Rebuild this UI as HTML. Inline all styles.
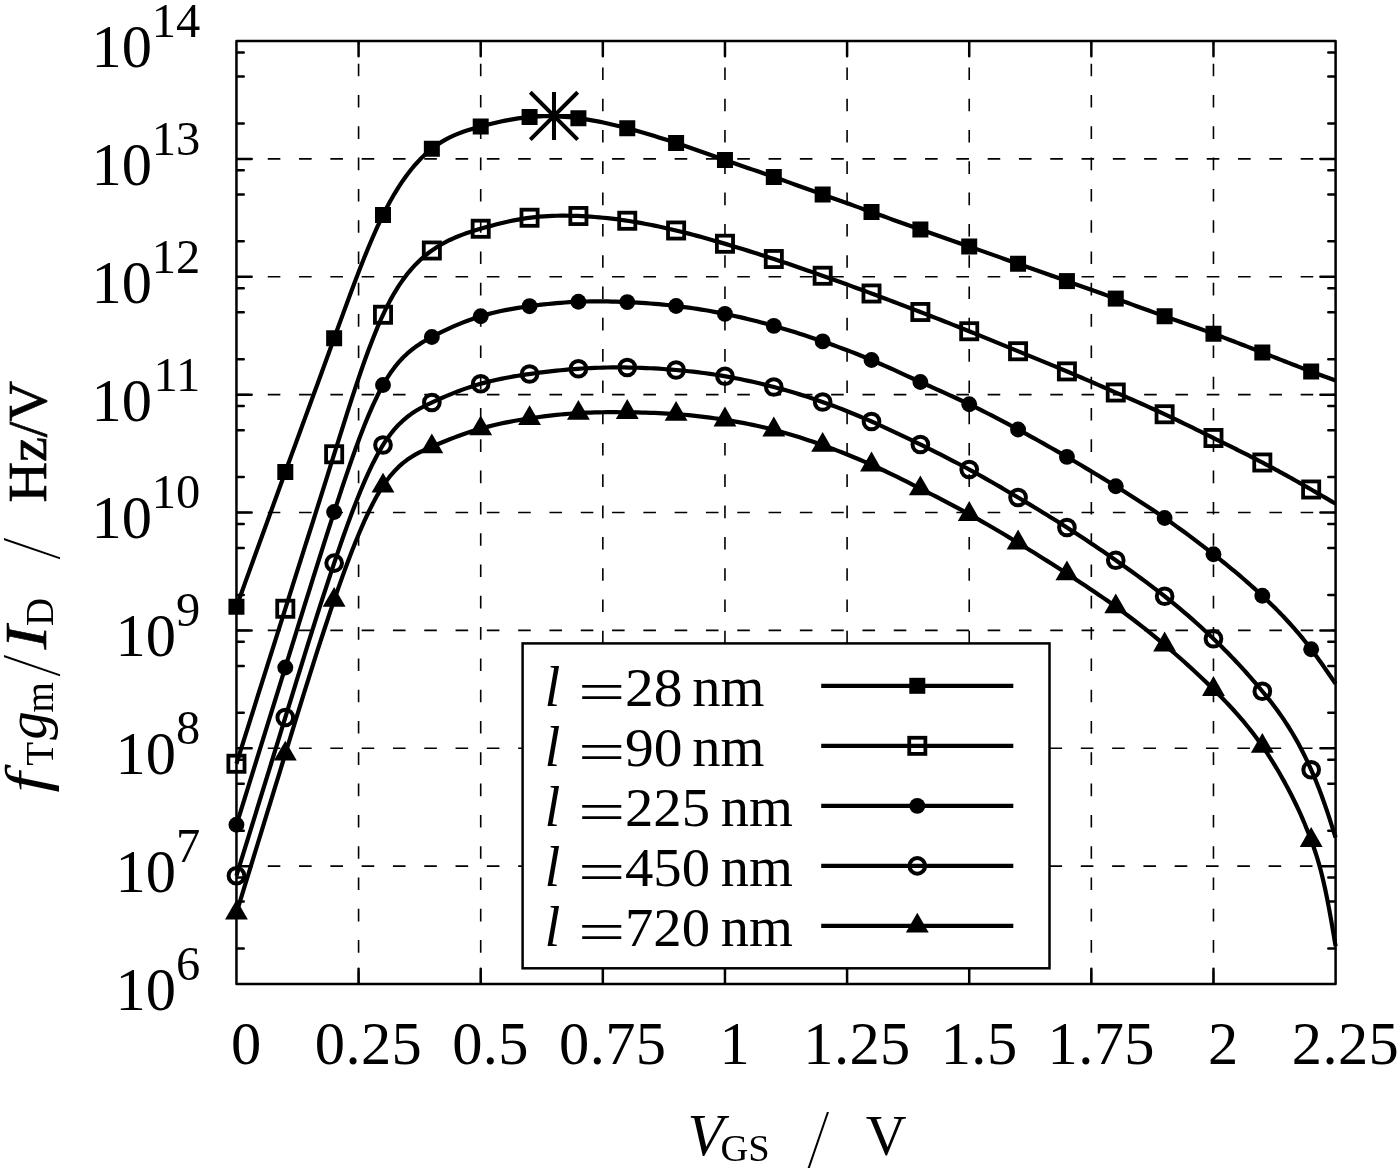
<!DOCTYPE html>
<html lang="en"><head><meta charset="utf-8"><title>fT gm/ID vs VGS</title>
<style>html,body{margin:0;padding:0;background:#fff}svg{display:block}text{font-family:"Liberation Serif","DejaVu Serif",serif;fill:#000}</style></head><body>
<svg width="1400" height="1173" viewBox="0 0 1400 1173">
<rect x="0" y="0" width="1400" height="1173" fill="#fff"/>
<g stroke="#000" stroke-width="1.6" fill="none" stroke-dasharray="12.6 18.7">
<path d="M236.45 866.13H522.6"/><path d="M1049.5 866.13H1335.6"/>
<path d="M236.45 748.26H522.6"/><path d="M1049.5 748.26H1335.6"/>
<path d="M236.45 630.39H1335.6"/>
<path d="M236.45 512.52H1335.6"/>
<path d="M236.45 394.66H1335.6"/>
<path d="M236.45 276.79H1335.6"/>
<path d="M236.45 158.92H1335.6"/>
<path d="M358.58 984V41.05"/>
<path d="M480.71 984V41.05"/>
<path d="M602.83 984V968.3"/><path d="M602.83 643.4V41.05"/>
<path d="M724.96 984V968.3"/><path d="M724.96 643.4V41.05"/>
<path d="M847.09 984V968.3"/><path d="M847.09 643.4V41.05"/>
<path d="M969.22 984V968.3"/><path d="M969.22 643.4V41.05"/>
<path d="M1091.34 984V41.05"/>
<path d="M1213.47 984V41.05"/>
</g>
<g stroke="#000" stroke-width="2.5" fill="none" stroke-linecap="round">
<path d="M237.45 866.13h14.2 M1334.6 866.13h-14.2"/>
<path d="M237.45 748.26h14.2 M1334.6 748.26h-14.2"/>
<path d="M237.45 630.39h14.2 M1334.6 630.39h-14.2"/>
<path d="M237.45 512.52h14.2 M1334.6 512.52h-14.2"/>
<path d="M237.45 394.66h14.2 M1334.6 394.66h-14.2"/>
<path d="M237.45 276.79h14.2 M1334.6 276.79h-14.2"/>
<path d="M237.45 158.92h14.2 M1334.6 158.92h-14.2"/>
<path d="M237.45 948.52h6.3 M1334.6 948.52h-6.3"/>
<path d="M237.45 901.61h6.3 M1334.6 901.61h-6.3"/>
<path d="M237.45 877.55h6.3 M1334.6 877.55h-6.3"/>
<path d="M237.45 830.65h6.3 M1334.6 830.65h-6.3"/>
<path d="M237.45 783.74h6.3 M1334.6 783.74h-6.3"/>
<path d="M237.45 759.69h6.3 M1334.6 759.69h-6.3"/>
<path d="M237.45 712.78h6.3 M1334.6 712.78h-6.3"/>
<path d="M237.45 665.88h6.3 M1334.6 665.88h-6.3"/>
<path d="M237.45 641.82h6.3 M1334.6 641.82h-6.3"/>
<path d="M237.45 594.91h6.3 M1334.6 594.91h-6.3"/>
<path d="M237.45 548.01h6.3 M1334.6 548.01h-6.3"/>
<path d="M237.45 523.95h6.3 M1334.6 523.95h-6.3"/>
<path d="M237.45 477.04h6.3 M1334.6 477.04h-6.3"/>
<path d="M237.45 430.14h6.3 M1334.6 430.14h-6.3"/>
<path d="M237.45 406.08h6.3 M1334.6 406.08h-6.3"/>
<path d="M237.45 359.17h6.3 M1334.6 359.17h-6.3"/>
<path d="M237.45 312.27h6.3 M1334.6 312.27h-6.3"/>
<path d="M237.45 288.21h6.3 M1334.6 288.21h-6.3"/>
<path d="M237.45 241.31h6.3 M1334.6 241.31h-6.3"/>
<path d="M237.45 194.4h6.3 M1334.6 194.4h-6.3"/>
<path d="M237.45 170.34h6.3 M1334.6 170.34h-6.3"/>
<path d="M237.45 123.44h6.3 M1334.6 123.44h-6.3"/>
<path d="M237.45 76.53h6.3 M1334.6 76.53h-6.3"/>
<path d="M237.45 52.47h6.3 M1334.6 52.47h-6.3"/>
<path d="M358.58 983v-14.2 M358.58 42.05v14.2"/>
<path d="M480.71 983v-14.2 M480.71 42.05v14.2"/>
<path d="M602.83 983v-14.2 M602.83 42.05v14.2"/>
<path d="M724.96 983v-14.2 M724.96 42.05v14.2"/>
<path d="M847.09 983v-14.2 M847.09 42.05v14.2"/>
<path d="M969.22 983v-14.2 M969.22 42.05v14.2"/>
<path d="M1091.34 983v-14.2 M1091.34 42.05v14.2"/>
<path d="M1213.47 983v-14.2 M1213.47 42.05v14.2"/>
</g>
<g stroke="#000" stroke-width="4.2" fill="none" stroke-linejoin="round">
<path d="M236.45 606.75 240.72 594.95 244.98 583.15 249.25 571.35 253.52 559.55 257.78 547.77 262.05 535.99 266.32 524.22 270.58 512.46 274.85 500.71 279.11 488.98 283.38 477.27 287.65 465.57 291.91 453.89 296.18 442.22 300.45 430.55 304.71 418.9 308.98 407.24 313.25 395.58 317.51 383.91 321.78 372.23 326.05 360.53 330.31 348.81 334.58 337.07 338.85 325.32 343.11 313.6 347.38 301.95 351.64 290.45 355.91 279.13 360.18 268.05 364.44 257.26 368.71 246.81 372.98 236.76 377.24 227.16 381.51 218.06 385.78 209.51 390.04 201.51 394.31 194.06 398.58 187.12 402.84 180.69 407.11 174.74 411.38 169.25 415.64 164.21 419.91 159.59 424.17 155.37 428.44 151.55 432.71 148.09 436.97 144.97 441.24 142.18 445.51 139.68 449.77 137.44 454.04 135.43 458.31 133.64 462.57 132.02 466.84 130.55 471.11 129.21 475.37 127.96 479.64 126.79 483.91 125.65 488.17 124.55 492.44 123.5 496.7 122.5 500.97 121.54 505.24 120.65 509.5 119.83 513.77 119.08 518.04 118.4 522.3 117.8 526.57 117.3 530.84 116.89 535.1 116.57 539.37 116.35 543.64 116.22 547.9 116.18 552.17 116.23 556.44 116.36 560.7 116.57 564.97 116.86 569.23 117.22 573.5 117.66 577.77 118.17 582.03 118.74 586.3 119.39 590.57 120.09 594.83 120.85 599.1 121.67 603.37 122.54 607.63 123.46 611.9 124.43 616.17 125.44 620.43 126.49 624.7 127.58 628.97 128.7 633.23 129.86 637.5 131.05 641.76 132.26 646.03 133.51 650.3 134.78 654.56 136.08 658.83 137.4 663.1 138.75 667.36 140.12 671.63 141.52 675.9 142.93 680.16 144.36 684.43 145.81 688.7 147.28 692.96 148.75 697.23 150.24 701.5 151.74 705.76 153.24 710.03 154.74 714.29 156.25 718.56 157.75 722.83 159.25 727.09 160.75 731.36 162.24 735.63 163.72 739.89 165.2 744.16 166.68 748.43 168.16 752.69 169.64 756.96 171.11 761.23 172.6 765.49 174.08 769.76 175.58 774.03 177.08 778.29 178.58 782.56 180.1 786.82 181.62 791.09 183.14 795.36 184.67 799.62 186.2 803.89 187.74 808.16 189.28 812.42 190.81 816.69 192.35 820.96 193.89 825.22 195.42 829.49 196.95 833.76 198.48 838.02 200.01 842.29 201.53 846.56 203.06 850.82 204.59 855.09 206.11 859.35 207.64 863.62 209.17 867.89 210.7 872.15 212.23 876.42 213.76 880.69 215.3 884.95 216.84 889.22 218.37 893.49 219.91 897.75 221.44 902.02 222.97 906.29 224.5 910.55 226.02 914.82 227.54 919.09 229.05 923.35 230.55 927.62 232.05 931.89 233.54 936.15 235.02 940.42 236.51 944.68 237.99 948.95 239.46 953.22 240.94 957.48 242.42 961.75 243.9 966.02 245.38 970.28 246.87 974.55 248.36 978.82 249.86 983.08 251.36 987.35 252.86 991.62 254.37 995.88 255.88 1000.15 257.39 1004.42 258.9 1008.68 260.42 1012.95 261.93 1017.21 263.45 1021.48 264.96 1025.75 266.48 1030.01 267.99 1034.28 269.5 1038.55 271.02 1042.81 272.53 1047.08 274.05 1051.35 275.56 1055.61 277.08 1059.88 278.6 1064.15 280.11 1068.41 281.63 1072.68 283.15 1076.95 284.67 1081.21 286.19 1085.48 287.72 1089.74 289.24 1094.01 290.77 1098.28 292.3 1102.54 293.83 1106.81 295.37 1111.08 296.91 1115.34 298.45 1119.61 299.99 1123.88 301.53 1128.14 303.08 1132.41 304.63 1136.68 306.18 1140.94 307.72 1145.21 309.27 1149.48 310.81 1153.74 312.35 1158.01 313.88 1162.27 315.41 1166.54 316.93 1170.81 318.45 1175.07 319.97 1179.34 321.48 1183.61 322.99 1187.87 324.51 1192.14 326.03 1196.41 327.55 1200.67 329.09 1204.94 330.63 1209.21 332.18 1213.47 333.75 1215.54 334.52 1217.61 335.28 1219.68 336.06 1221.75 336.83 1223.82 337.61 1225.89 338.39 1227.96 339.18 1230.03 339.96 1232.1 340.75 1234.17 341.54 1236.24 342.34 1238.31 343.14 1240.38 343.93 1242.45 344.73 1244.52 345.54 1246.59 346.34 1248.66 347.15 1250.73 347.96 1252.8 348.76 1254.87 349.57 1256.94 350.39 1259.01 351.2 1261.08 352.01 1263.15 352.83 1265.22 353.64 1267.29 354.46 1269.36 355.27 1271.43 356.09 1273.5 356.9 1275.57 357.72 1277.64 358.53 1279.71 359.35 1281.78 360.16 1283.85 360.97 1285.92 361.78 1287.99 362.59 1290.06 363.4 1292.13 364.21 1294.2 365.01 1296.27 365.81 1298.34 366.61 1300.41 367.41 1302.48 368.2 1304.55 368.99 1306.62 369.78 1308.69 370.56 1310.76 371.34 1312.83 372.12 1314.9 372.89 1316.97 373.66 1319.04 374.43 1321.11 375.2 1323.18 375.96 1325.25 376.72 1327.32 377.48 1329.39 378.23 1331.46 378.99 1333.53 379.74 1335.6 380.5"/>
<path d="M236.45 763.75 240.72 750.19 244.98 736.63 249.25 723.07 253.52 709.51 257.78 695.96 262.05 682.41 266.32 668.88 270.58 655.35 274.85 641.83 279.11 628.32 283.38 614.82 287.65 601.34 291.91 587.86 296.18 574.4 300.45 560.93 304.71 547.47 308.98 534 313.25 520.53 317.51 507.04 321.78 493.54 326.05 480.01 330.31 466.47 334.58 452.89 338.85 439.3 343.11 425.76 347.38 412.34 351.64 399.11 355.91 386.14 360.18 373.52 364.44 361.31 368.71 349.58 372.98 338.4 377.24 327.86 381.51 318.02 385.78 308.94 390.04 300.63 394.31 293.05 398.58 286.15 402.84 279.88 407.11 274.2 411.38 269.06 415.64 264.41 419.91 260.22 424.17 256.44 428.44 253.01 432.71 249.9 436.97 247.07 441.24 244.49 445.51 242.14 449.77 239.99 454.04 238.04 458.31 236.25 462.57 234.61 466.84 233.09 471.11 231.68 475.37 230.34 479.64 229.06 483.91 227.82 488.17 226.62 492.44 225.46 496.7 224.34 500.97 223.27 505.24 222.25 509.5 221.3 513.77 220.41 518.04 219.58 522.3 218.84 526.57 218.17 530.84 217.58 535.1 217.08 539.37 216.67 543.64 216.33 547.9 216.07 552.17 215.87 556.44 215.75 560.7 215.68 564.97 215.68 569.23 215.73 573.5 215.83 577.77 215.97 582.03 216.17 586.3 216.4 590.57 216.67 594.83 216.99 599.1 217.35 603.37 217.75 607.63 218.19 611.9 218.68 616.17 219.2 620.43 219.76 624.7 220.37 628.97 221.01 633.23 221.7 637.5 222.42 641.76 223.18 646.03 223.97 650.3 224.8 654.56 225.67 658.83 226.56 663.1 227.49 667.36 228.45 671.63 229.43 675.9 230.45 680.16 231.49 684.43 232.56 688.7 233.65 692.96 234.76 697.23 235.9 701.5 237.06 705.76 238.24 710.03 239.43 714.29 240.65 718.56 241.88 722.83 243.12 727.09 244.38 731.36 245.65 735.63 246.94 739.89 248.23 744.16 249.55 748.43 250.87 752.69 252.2 756.96 253.55 761.23 254.91 765.49 256.29 769.76 257.67 774.03 259.07 778.29 260.48 782.56 261.9 786.82 263.33 791.09 264.78 795.36 266.23 799.62 267.69 803.89 269.17 808.16 270.65 812.42 272.14 816.69 273.64 820.96 275.15 825.22 276.66 829.49 278.18 833.76 279.71 838.02 281.24 842.29 282.78 846.56 284.33 850.82 285.88 855.09 287.44 859.35 289.01 863.62 290.58 867.89 292.15 872.15 293.74 876.42 295.33 880.69 296.92 884.95 298.52 889.22 300.12 893.49 301.73 897.75 303.35 902.02 304.97 906.29 306.6 910.55 308.23 914.82 309.86 919.09 311.51 923.35 313.15 927.62 314.81 931.89 316.46 936.15 318.13 940.42 319.8 944.68 321.47 948.95 323.16 953.22 324.85 957.48 326.54 961.75 328.25 966.02 329.96 970.28 331.68 974.55 333.41 978.82 335.14 983.08 336.88 987.35 338.63 991.62 340.38 995.88 342.13 1000.15 343.89 1004.42 345.64 1008.68 347.39 1012.95 349.15 1017.21 350.9 1021.48 352.65 1025.75 354.39 1030.01 356.14 1034.28 357.89 1038.55 359.63 1042.81 361.38 1047.08 363.14 1051.35 364.9 1055.61 366.67 1059.88 368.45 1064.15 370.23 1068.41 372.03 1072.68 373.84 1076.95 375.66 1081.21 377.49 1085.48 379.33 1089.74 381.17 1094.01 383.02 1098.28 384.88 1102.54 386.73 1106.81 388.59 1111.08 390.45 1115.34 392.31 1119.61 394.17 1123.88 396.03 1128.14 397.89 1132.41 399.76 1136.68 401.64 1140.94 403.52 1145.21 405.42 1149.48 407.32 1153.74 409.25 1158.01 411.19 1162.27 413.16 1166.54 415.15 1170.81 417.16 1175.07 419.19 1179.34 421.24 1183.61 423.31 1187.87 425.38 1192.14 427.47 1196.41 429.57 1200.67 431.68 1204.94 433.78 1209.21 435.89 1213.47 438 1215.54 439.02 1217.61 440.04 1219.68 441.06 1221.75 442.08 1223.82 443.1 1225.89 444.12 1227.96 445.14 1230.03 446.17 1232.1 447.19 1234.17 448.22 1236.24 449.25 1238.31 450.28 1240.38 451.31 1242.45 452.34 1244.52 453.38 1246.59 454.43 1248.66 455.47 1250.73 456.52 1252.8 457.58 1254.87 458.64 1256.94 459.7 1259.01 460.78 1261.08 461.85 1263.15 462.93 1265.22 464.02 1267.29 465.12 1269.36 466.22 1271.43 467.32 1273.5 468.43 1275.57 469.55 1277.64 470.67 1279.71 471.8 1281.78 472.93 1283.85 474.07 1285.92 475.21 1287.99 476.36 1290.06 477.51 1292.13 478.67 1294.2 479.83 1296.27 480.99 1298.34 482.16 1300.41 483.34 1302.48 484.51 1304.55 485.7 1306.62 486.88 1308.69 488.07 1310.76 489.26 1312.83 490.46 1314.9 491.66 1316.97 492.86 1319.04 494.06 1321.11 495.27 1323.18 496.47 1325.25 497.68 1327.32 498.9 1329.39 500.11 1331.46 501.32 1333.53 502.54 1335.6 503.75"/>
<path d="M236.45 824.75 240.72 811.03 244.98 797.31 249.25 783.59 253.52 769.87 257.78 756.15 262.05 742.42 266.32 728.69 270.58 714.95 274.85 701.2 279.11 687.45 283.38 673.69 287.65 659.93 291.91 646.16 296.18 632.4 300.45 618.66 304.71 604.95 308.98 591.27 313.25 577.65 317.51 564.09 321.78 550.61 326.05 537.2 330.31 523.89 334.58 510.68 338.85 497.61 343.11 484.71 347.38 472.07 351.64 459.74 355.91 447.79 360.18 436.29 364.44 425.29 368.71 414.87 372.98 405.09 377.24 396.02 381.51 387.71 385.78 380.24 390.04 373.57 394.31 367.65 398.58 362.4 402.84 357.76 407.11 353.66 411.38 350.03 415.64 346.81 419.91 343.91 424.17 341.28 428.44 338.85 432.71 336.55 436.97 334.32 441.24 332.17 445.51 330.1 449.77 328.11 454.04 326.2 458.31 324.37 462.57 322.64 466.84 320.98 471.11 319.42 475.37 317.95 479.64 316.58 483.91 315.3 488.17 314.11 492.44 313.01 496.7 311.99 500.97 311.05 505.24 310.17 509.5 309.36 513.77 308.6 518.04 307.9 522.3 307.23 526.57 306.61 530.84 306.03 535.1 305.47 539.37 304.94 543.64 304.45 547.9 303.99 552.17 303.56 556.44 303.17 560.7 302.81 564.97 302.49 569.23 302.22 573.5 301.98 577.77 301.78 582.03 301.62 586.3 301.5 590.57 301.42 594.83 301.38 599.1 301.38 603.37 301.4 607.63 301.46 611.9 301.55 616.17 301.67 620.43 301.82 624.7 301.99 628.97 302.18 633.23 302.39 637.5 302.63 641.76 302.9 646.03 303.18 650.3 303.5 654.56 303.84 658.83 304.21 663.1 304.6 667.36 305.03 671.63 305.49 675.9 305.97 680.16 306.5 684.43 307.05 688.7 307.63 692.96 308.25 697.23 308.9 701.5 309.58 705.76 310.29 710.03 311.04 714.29 311.82 718.56 312.63 722.83 313.47 727.09 314.34 731.36 315.25 735.63 316.18 739.89 317.15 744.16 318.15 748.43 319.18 752.69 320.24 756.96 321.32 761.23 322.44 765.49 323.59 769.76 324.76 774.03 325.96 778.29 327.19 782.56 328.44 786.82 329.72 791.09 331.03 795.36 332.36 799.62 333.71 803.89 335.09 808.16 336.49 812.42 337.91 816.69 339.35 820.96 340.81 825.22 342.29 829.49 343.79 833.76 345.31 838.02 346.86 842.29 348.43 846.56 350.03 850.82 351.66 855.09 353.31 859.35 355 863.62 356.72 867.89 358.48 872.15 360.27 876.42 362.1 880.69 363.96 884.95 365.85 889.22 367.77 893.49 369.7 897.75 371.64 902.02 373.6 906.29 375.56 910.55 377.52 914.82 379.47 919.09 381.42 923.35 383.35 927.62 385.27 931.89 387.18 936.15 389.09 940.42 391 944.68 392.91 948.95 394.84 953.22 396.78 957.48 398.74 961.75 400.72 966.02 402.72 970.28 404.76 974.55 406.84 978.82 408.94 983.08 411.08 987.35 413.25 991.62 415.44 995.88 417.66 1000.15 419.9 1004.42 422.16 1008.68 424.43 1012.95 426.73 1017.21 429.04 1021.48 431.36 1025.75 433.69 1030.01 436.04 1034.28 438.39 1038.55 440.77 1042.81 443.15 1047.08 445.55 1051.35 447.96 1055.61 450.39 1059.88 452.84 1064.15 455.29 1068.41 457.77 1072.68 460.26 1076.95 462.76 1081.21 465.29 1085.48 467.82 1089.74 470.37 1094.01 472.94 1098.28 475.52 1102.54 478.12 1106.81 480.73 1111.08 483.35 1115.34 485.99 1119.61 488.64 1123.88 491.3 1128.14 493.99 1132.41 496.69 1136.68 499.42 1140.94 502.17 1145.21 504.95 1149.48 507.75 1153.74 510.6 1158.01 513.47 1162.27 516.38 1166.54 519.33 1170.81 522.32 1175.07 525.35 1179.34 528.42 1183.61 531.53 1187.87 534.67 1192.14 537.85 1196.41 541.06 1200.67 544.31 1204.94 547.59 1209.21 550.91 1213.47 554.25 1215.54 555.88 1217.61 557.53 1219.68 559.18 1221.75 560.83 1223.82 562.5 1225.89 564.18 1227.96 565.87 1230.03 567.56 1232.1 569.27 1234.17 570.99 1236.24 572.72 1238.31 574.47 1240.38 576.22 1242.45 577.99 1244.52 579.78 1246.59 581.58 1248.66 583.39 1250.73 585.22 1252.8 587.06 1254.87 588.92 1256.94 590.79 1259.01 592.69 1261.08 594.6 1263.15 596.52 1265.22 598.47 1267.29 600.44 1269.36 602.42 1271.43 604.43 1273.5 606.47 1275.57 608.53 1277.64 610.61 1279.71 612.73 1281.78 614.87 1283.85 617.04 1285.92 619.25 1287.99 621.49 1290.06 623.76 1292.13 626.07 1294.2 628.42 1296.27 630.81 1298.34 633.23 1300.41 635.7 1302.48 638.21 1304.55 640.77 1306.62 643.36 1308.69 646.01 1310.76 648.71 1312.83 651.45 1314.9 654.24 1316.97 657.07 1319.04 659.94 1321.11 662.84 1323.18 665.77 1325.25 668.73 1327.32 671.71 1329.39 674.7 1331.46 677.71 1333.53 680.73 1335.6 683.75"/>
<path d="M236.45 875.75 240.72 861.95 244.98 848.15 249.25 834.34 253.52 820.54 257.78 806.73 262.05 792.91 266.32 779.09 270.58 765.27 274.85 751.43 279.11 737.59 283.38 723.74 287.65 709.88 291.91 696.01 296.18 682.17 300.45 668.37 304.71 654.64 308.98 640.98 313.25 627.42 317.51 613.98 321.78 600.68 326.05 587.55 330.31 574.59 334.58 561.83 338.85 549.31 343.11 537.05 347.38 525.12 351.64 513.57 355.91 502.44 360.18 491.79 364.44 481.66 368.71 472.12 372.98 463.2 377.24 454.96 381.51 447.45 385.78 440.71 390.04 434.73 394.31 429.44 398.58 424.77 402.84 420.66 407.11 417.05 411.38 413.86 415.64 411.04 419.91 408.52 424.17 406.24 428.44 404.12 432.71 402.1 436.97 400.14 441.24 398.24 445.51 396.4 449.77 394.61 454.04 392.89 458.31 391.23 462.57 389.65 466.84 388.13 471.11 386.7 475.37 385.34 479.64 384.06 483.91 382.86 488.17 381.75 492.44 380.71 496.7 379.73 500.97 378.83 505.24 377.98 509.5 377.19 513.77 376.44 518.04 375.73 522.3 375.07 526.57 374.43 530.84 373.82 535.1 373.23 539.37 372.67 543.64 372.13 547.9 371.61 552.17 371.12 556.44 370.66 560.7 370.23 564.97 369.82 569.23 369.45 573.5 369.1 577.77 368.79 582.03 368.52 586.3 368.27 590.57 368.06 594.83 367.88 599.1 367.73 603.37 367.61 607.63 367.52 611.9 367.47 616.17 367.44 620.43 367.44 624.7 367.47 628.97 367.53 633.23 367.61 637.5 367.73 641.76 367.87 646.03 368.04 650.3 368.23 654.56 368.46 658.83 368.71 663.1 368.99 667.36 369.29 671.63 369.62 675.9 369.98 680.16 370.37 684.43 370.78 688.7 371.22 692.96 371.69 697.23 372.19 701.5 372.72 705.76 373.29 710.03 373.89 714.29 374.52 718.56 375.18 722.83 375.89 727.09 376.62 731.36 377.4 735.63 378.21 739.89 379.06 744.16 379.94 748.43 380.86 752.69 381.81 756.96 382.8 761.23 383.82 765.49 384.86 769.76 385.94 774.03 387.06 778.29 388.2 782.56 389.37 786.82 390.57 791.09 391.81 795.36 393.08 799.62 394.38 803.89 395.71 808.16 397.08 812.42 398.49 816.69 399.92 820.96 401.4 825.22 402.91 829.49 404.46 833.76 406.04 838.02 407.66 842.29 409.31 846.56 411 850.82 412.72 855.09 414.47 859.35 416.25 863.62 418.07 867.89 419.91 872.15 421.78 876.42 423.68 880.69 425.61 884.95 427.57 889.22 429.54 893.49 431.54 897.75 433.56 902.02 435.59 906.29 437.64 910.55 439.71 914.82 441.78 919.09 443.87 923.35 445.97 927.62 448.07 931.89 450.19 936.15 452.32 940.42 454.47 944.68 456.63 948.95 458.82 953.22 461.02 957.48 463.24 961.75 465.5 966.02 467.77 970.28 470.08 974.55 472.41 978.82 474.78 983.08 477.17 987.35 479.58 991.62 482.01 995.88 484.47 1000.15 486.94 1004.42 489.44 1008.68 491.94 1012.95 494.46 1017.21 496.99 1021.48 499.53 1025.75 502.08 1030.01 504.65 1034.28 507.22 1038.55 509.81 1042.81 512.42 1047.08 515.04 1051.35 517.68 1055.61 520.34 1059.88 523.03 1064.15 525.73 1068.41 528.46 1072.68 531.21 1076.95 533.99 1081.21 536.79 1085.48 539.61 1089.74 542.45 1094.01 545.32 1098.28 548.21 1102.54 551.11 1106.81 554.04 1111.08 556.99 1115.34 559.95 1119.61 562.94 1123.88 565.94 1128.14 568.97 1132.41 572.03 1136.68 575.11 1140.94 578.23 1145.21 581.38 1149.48 584.57 1153.74 587.8 1158.01 591.08 1162.27 594.4 1166.54 597.77 1170.81 601.2 1175.07 604.68 1179.34 608.21 1183.61 611.81 1187.87 615.46 1192.14 619.17 1196.41 622.95 1200.67 626.8 1204.94 630.71 1209.21 634.69 1213.47 638.75 1215.54 640.74 1217.61 642.76 1219.68 644.79 1221.75 646.83 1223.82 648.9 1225.89 650.99 1227.96 653.09 1230.03 655.22 1232.1 657.37 1234.17 659.53 1236.24 661.72 1238.31 663.93 1240.38 666.16 1242.45 668.42 1244.52 670.69 1246.59 672.99 1248.66 675.31 1250.73 677.66 1252.8 680.03 1254.87 682.42 1256.94 684.84 1259.01 687.29 1261.08 689.76 1263.15 692.25 1265.22 694.78 1267.29 697.33 1269.36 699.93 1271.43 702.57 1273.5 705.27 1275.57 708.02 1277.64 710.83 1279.71 713.71 1281.78 716.66 1283.85 719.69 1285.92 722.81 1287.99 726.01 1290.06 729.32 1292.13 732.72 1294.2 736.23 1296.27 739.85 1298.34 743.59 1300.41 747.45 1302.48 751.44 1304.55 755.57 1306.62 759.84 1308.69 764.25 1310.76 768.82 1312.83 773.54 1314.9 778.43 1316.97 783.5 1319.04 788.77 1321.11 794.23 1323.18 799.92 1325.25 805.83 1327.32 811.93 1329.39 818.18 1331.46 824.56 1333.53 831.01 1335.6 837.5"/>
<path d="M236.45 912.9 240.72 899.02 244.98 885.14 249.25 871.26 253.52 857.38 257.78 843.5 262.05 829.61 266.32 815.73 270.58 801.84 274.85 787.95 279.11 774.05 283.38 760.16 287.65 746.25 291.91 732.36 296.18 718.5 300.45 704.69 304.71 690.96 308.98 677.33 313.25 663.82 317.51 650.46 321.78 637.26 326.05 624.26 330.31 611.46 334.58 598.91 338.85 586.61 343.11 574.62 347.38 562.99 351.64 551.76 355.91 540.97 360.18 530.68 364.44 520.92 368.71 511.75 372.98 503.21 377.24 495.35 381.51 488.22 385.78 481.85 390.04 476.22 394.31 471.27 398.58 466.94 402.84 463.14 407.11 459.83 411.38 456.93 415.64 454.37 419.91 452.1 424.17 450.04 428.44 448.12 432.71 446.29 436.97 444.49 441.24 442.72 445.51 440.99 449.77 439.3 454.04 437.65 458.31 436.06 462.57 434.52 466.84 433.03 471.11 431.61 475.37 430.25 479.64 428.96 483.91 427.75 488.17 426.6 492.44 425.53 496.7 424.51 500.97 423.56 505.24 422.66 509.5 421.82 513.77 421.02 518.04 420.26 522.3 419.54 526.57 418.86 530.84 418.21 535.1 417.58 539.37 416.99 543.64 416.42 547.9 415.89 552.17 415.38 556.44 414.92 560.7 414.49 564.97 414.09 569.23 413.73 573.5 413.42 577.77 413.14 582.03 412.9 586.3 412.71 590.57 412.55 594.83 412.42 599.1 412.33 603.37 412.26 607.63 412.22 611.9 412.21 616.17 412.21 620.43 412.23 624.7 412.27 628.97 412.32 633.23 412.38 637.5 412.46 641.76 412.55 646.03 412.65 650.3 412.78 654.56 412.93 658.83 413.11 663.1 413.31 667.36 413.53 671.63 413.79 675.9 414.08 680.16 414.41 684.43 414.77 688.7 415.17 692.96 415.59 697.23 416.05 701.5 416.54 705.76 417.07 710.03 417.62 714.29 418.21 718.56 418.82 722.83 419.47 727.09 420.14 731.36 420.84 735.63 421.58 739.89 422.34 744.16 423.14 748.43 423.98 752.69 424.85 756.96 425.77 761.23 426.72 765.49 427.72 769.76 428.77 774.03 429.86 778.29 430.99 782.56 432.18 786.82 433.41 791.09 434.68 795.36 435.99 799.62 437.34 803.89 438.72 808.16 440.14 812.42 441.59 816.69 443.08 820.96 444.59 825.22 446.13 829.49 447.69 833.76 449.28 838.02 450.91 842.29 452.56 846.56 454.24 850.82 455.96 855.09 457.71 859.35 459.5 863.62 461.32 867.89 463.19 872.15 465.09 876.42 467.03 880.69 469.01 884.95 471.02 889.22 473.06 893.49 475.13 897.75 477.22 902.02 479.34 906.29 481.47 910.55 483.62 914.82 485.78 919.09 487.95 923.35 490.12 927.62 492.31 931.89 494.5 936.15 496.7 940.42 498.91 944.68 501.14 948.95 503.38 953.22 505.64 957.48 507.92 961.75 510.22 966.02 512.54 970.28 514.89 974.55 517.26 978.82 519.67 983.08 522.09 987.35 524.54 991.62 527.01 995.88 529.51 1000.15 532.02 1004.42 534.56 1008.68 537.11 1012.95 539.69 1017.21 542.28 1021.48 544.89 1025.75 547.51 1030.01 550.16 1034.28 552.81 1038.55 555.48 1042.81 558.17 1047.08 560.87 1051.35 563.58 1055.61 566.31 1059.88 569.05 1064.15 571.8 1068.41 574.57 1072.68 577.35 1076.95 580.14 1081.21 582.95 1085.48 585.78 1089.74 588.63 1094.01 591.51 1098.28 594.42 1102.54 597.36 1106.81 600.33 1111.08 603.34 1115.34 606.39 1119.61 609.48 1123.88 612.62 1128.14 615.8 1132.41 619.02 1136.68 622.28 1140.94 625.59 1145.21 628.95 1149.48 632.35 1153.74 635.8 1158.01 639.29 1162.27 642.83 1166.54 646.42 1170.81 650.06 1175.07 653.74 1179.34 657.48 1183.61 661.27 1187.87 665.11 1192.14 669 1196.41 672.95 1200.67 676.95 1204.94 681.01 1209.21 685.13 1213.47 689.3 1215.54 691.35 1217.61 693.41 1219.68 695.49 1221.75 697.59 1223.82 699.72 1225.89 701.87 1227.96 704.05 1230.03 706.25 1232.1 708.49 1234.17 710.76 1236.24 713.07 1238.31 715.41 1240.38 717.8 1242.45 720.22 1244.52 722.69 1246.59 725.21 1248.66 727.78 1250.73 730.4 1252.8 733.07 1254.87 735.79 1256.94 738.58 1259.01 741.42 1261.08 744.33 1263.15 747.3 1265.22 750.33 1267.29 753.43 1269.36 756.61 1271.43 759.85 1273.5 763.16 1275.57 766.55 1277.64 770.02 1279.71 773.56 1281.78 777.18 1283.85 780.88 1285.92 784.66 1287.99 788.53 1290.06 792.49 1292.13 796.54 1294.2 800.71 1296.27 805 1298.34 809.41 1300.41 813.97 1302.48 818.68 1304.55 823.54 1306.62 828.58 1308.69 833.79 1310.76 839.2 1312.83 844.81 1314.9 850.74 1316.97 857.12 1319.04 864.1 1321.11 871.8 1323.18 880.28 1325.25 889.54 1327.32 899.57 1329.39 910.39 1331.46 921.92 1333.53 933.96 1335.6 946.25"/>
</g>
<g>
<rect x="228.45" y="598.75" width="16" height="16" fill="#000"/>
<rect x="277.3" y="464" width="16" height="16" fill="#000"/>
<rect x="326.15" y="330.25" width="16" height="16" fill="#000"/>
<rect x="375" y="207" width="16" height="16" fill="#000"/>
<rect x="423.85" y="140.75" width="16" height="16" fill="#000"/>
<rect x="472.71" y="118.5" width="16" height="16" fill="#000"/>
<rect x="521.56" y="109" width="16" height="16" fill="#000"/>
<rect x="570.41" y="110.25" width="16" height="16" fill="#000"/>
<rect x="619.26" y="120.25" width="16" height="16" fill="#000"/>
<rect x="668.11" y="135" width="16" height="16" fill="#000"/>
<rect x="716.96" y="152" width="16" height="16" fill="#000"/>
<rect x="765.81" y="169" width="16" height="16" fill="#000"/>
<rect x="814.66" y="186.5" width="16" height="16" fill="#000"/>
<rect x="863.51" y="204" width="16" height="16" fill="#000"/>
<rect x="912.37" y="221.5" width="16" height="16" fill="#000"/>
<rect x="961.22" y="238.5" width="16" height="16" fill="#000"/>
<rect x="1010.07" y="255.75" width="16" height="16" fill="#000"/>
<rect x="1058.92" y="273.1" width="16" height="16" fill="#000"/>
<rect x="1107.77" y="290.6" width="16" height="16" fill="#000"/>
<rect x="1156.62" y="308.25" width="16" height="16" fill="#000"/>
<rect x="1205.47" y="325.75" width="16" height="16" fill="#000"/>
<rect x="1254.32" y="344.5" width="16" height="16" fill="#000"/>
<rect x="1303.17" y="363.5" width="16" height="16" fill="#000"/>
<rect x="228.38" y="755.68" width="16.14" height="16.14" fill="none" stroke="#000" stroke-width="3.8"/>
<rect x="277.23" y="600.68" width="16.14" height="16.14" fill="none" stroke="#000" stroke-width="3.8"/>
<rect x="326.08" y="446.18" width="16.14" height="16.14" fill="none" stroke="#000" stroke-width="3.8"/>
<rect x="374.93" y="306.68" width="16.14" height="16.14" fill="none" stroke="#000" stroke-width="3.8"/>
<rect x="423.78" y="242.43" width="16.14" height="16.14" fill="none" stroke="#000" stroke-width="3.8"/>
<rect x="472.64" y="220.68" width="16.14" height="16.14" fill="none" stroke="#000" stroke-width="3.8"/>
<rect x="521.49" y="209.68" width="16.14" height="16.14" fill="none" stroke="#000" stroke-width="3.8"/>
<rect x="570.34" y="207.93" width="16.14" height="16.14" fill="none" stroke="#000" stroke-width="3.8"/>
<rect x="619.19" y="212.68" width="16.14" height="16.14" fill="none" stroke="#000" stroke-width="3.8"/>
<rect x="668.04" y="222.43" width="16.14" height="16.14" fill="none" stroke="#000" stroke-width="3.8"/>
<rect x="716.89" y="235.68" width="16.14" height="16.14" fill="none" stroke="#000" stroke-width="3.8"/>
<rect x="765.74" y="250.93" width="16.14" height="16.14" fill="none" stroke="#000" stroke-width="3.8"/>
<rect x="814.59" y="267.68" width="16.14" height="16.14" fill="none" stroke="#000" stroke-width="3.8"/>
<rect x="863.44" y="285.43" width="16.14" height="16.14" fill="none" stroke="#000" stroke-width="3.8"/>
<rect x="912.3" y="303.93" width="16.14" height="16.14" fill="none" stroke="#000" stroke-width="3.8"/>
<rect x="961.15" y="323.18" width="16.14" height="16.14" fill="none" stroke="#000" stroke-width="3.8"/>
<rect x="1010" y="343.18" width="16.14" height="16.14" fill="none" stroke="#000" stroke-width="3.8"/>
<rect x="1058.85" y="363.33" width="16.14" height="16.14" fill="none" stroke="#000" stroke-width="3.8"/>
<rect x="1107.7" y="384.43" width="16.14" height="16.14" fill="none" stroke="#000" stroke-width="3.8"/>
<rect x="1156.55" y="406.18" width="16.14" height="16.14" fill="none" stroke="#000" stroke-width="3.8"/>
<rect x="1205.4" y="429.93" width="16.14" height="16.14" fill="none" stroke="#000" stroke-width="3.8"/>
<rect x="1254.25" y="454.43" width="16.14" height="16.14" fill="none" stroke="#000" stroke-width="3.8"/>
<rect x="1303.1" y="481.43" width="16.14" height="16.14" fill="none" stroke="#000" stroke-width="3.8"/>
<circle cx="236.45" cy="824.75" r="7.95" fill="#000"/>
<circle cx="285.3" cy="667.5" r="7.95" fill="#000"/>
<circle cx="334.15" cy="512" r="7.95" fill="#000"/>
<circle cx="383" cy="385" r="7.95" fill="#000"/>
<circle cx="431.85" cy="337" r="7.95" fill="#000"/>
<circle cx="480.71" cy="316.25" r="7.95" fill="#000"/>
<circle cx="529.56" cy="306.2" r="7.95" fill="#000"/>
<circle cx="578.41" cy="301.75" r="7.95" fill="#000"/>
<circle cx="627.26" cy="302.1" r="7.95" fill="#000"/>
<circle cx="676.11" cy="306" r="7.95" fill="#000"/>
<circle cx="724.96" cy="313.9" r="7.95" fill="#000"/>
<circle cx="773.81" cy="325.9" r="7.95" fill="#000"/>
<circle cx="822.66" cy="341.4" r="7.95" fill="#000"/>
<circle cx="871.51" cy="360" r="7.95" fill="#000"/>
<circle cx="920.37" cy="382" r="7.95" fill="#000"/>
<circle cx="969.22" cy="404.25" r="7.95" fill="#000"/>
<circle cx="1018.07" cy="429.5" r="7.95" fill="#000"/>
<circle cx="1066.92" cy="456.9" r="7.95" fill="#000"/>
<circle cx="1115.77" cy="486.25" r="7.95" fill="#000"/>
<circle cx="1164.62" cy="518" r="7.95" fill="#000"/>
<circle cx="1213.47" cy="554.25" r="7.95" fill="#000"/>
<circle cx="1262.32" cy="595.75" r="7.95" fill="#000"/>
<circle cx="1311.17" cy="649.25" r="7.95" fill="#000"/>
<circle cx="236.45" cy="875.75" r="7.85" fill="none" stroke="#000" stroke-width="4"/>
<circle cx="285.3" cy="717.5" r="7.85" fill="none" stroke="#000" stroke-width="4"/>
<circle cx="334.15" cy="563.1" r="7.85" fill="none" stroke="#000" stroke-width="4"/>
<circle cx="383" cy="445" r="7.85" fill="none" stroke="#000" stroke-width="4"/>
<circle cx="431.85" cy="402.5" r="7.85" fill="none" stroke="#000" stroke-width="4"/>
<circle cx="480.71" cy="383.75" r="7.85" fill="none" stroke="#000" stroke-width="4"/>
<circle cx="529.56" cy="374" r="7.85" fill="none" stroke="#000" stroke-width="4"/>
<circle cx="578.41" cy="368.75" r="7.85" fill="none" stroke="#000" stroke-width="4"/>
<circle cx="627.26" cy="367.5" r="7.85" fill="none" stroke="#000" stroke-width="4"/>
<circle cx="676.11" cy="370" r="7.85" fill="none" stroke="#000" stroke-width="4"/>
<circle cx="724.96" cy="376.25" r="7.85" fill="none" stroke="#000" stroke-width="4"/>
<circle cx="773.81" cy="387" r="7.85" fill="none" stroke="#000" stroke-width="4"/>
<circle cx="822.66" cy="402" r="7.85" fill="none" stroke="#000" stroke-width="4"/>
<circle cx="871.51" cy="421.5" r="7.85" fill="none" stroke="#000" stroke-width="4"/>
<circle cx="920.37" cy="444.5" r="7.85" fill="none" stroke="#000" stroke-width="4"/>
<circle cx="969.22" cy="469.5" r="7.85" fill="none" stroke="#000" stroke-width="4"/>
<circle cx="1018.07" cy="497.5" r="7.85" fill="none" stroke="#000" stroke-width="4"/>
<circle cx="1066.92" cy="527.5" r="7.85" fill="none" stroke="#000" stroke-width="4"/>
<circle cx="1115.77" cy="560.25" r="7.85" fill="none" stroke="#000" stroke-width="4"/>
<circle cx="1164.62" cy="596.25" r="7.85" fill="none" stroke="#000" stroke-width="4"/>
<circle cx="1213.47" cy="638.75" r="7.85" fill="none" stroke="#000" stroke-width="4"/>
<circle cx="1262.32" cy="691.25" r="7.85" fill="none" stroke="#000" stroke-width="4"/>
<circle cx="1311.17" cy="769.75" r="7.85" fill="none" stroke="#000" stroke-width="4"/>
<polygon points="236.45,899.7 225.02,919.5 247.88,919.5" fill="#000"/>
<polygon points="285.3,740.7 273.87,760.5 296.73,760.5" fill="#000"/>
<polygon points="334.15,586.95 322.72,606.75 345.58,606.75" fill="#000"/>
<polygon points="383,472.7 371.57,492.5 394.43,492.5" fill="#000"/>
<polygon points="431.85,433.45 420.42,453.25 443.29,453.25" fill="#000"/>
<polygon points="480.71,415.45 469.27,435.25 492.14,435.25" fill="#000"/>
<polygon points="529.56,405.2 518.13,425 540.99,425" fill="#000"/>
<polygon points="578.41,399.9 566.98,419.7 589.84,419.7" fill="#000"/>
<polygon points="627.26,399.1 615.83,418.9 638.69,418.9" fill="#000"/>
<polygon points="676.11,400.9 664.68,420.7 687.54,420.7" fill="#000"/>
<polygon points="724.96,406.6 713.53,426.4 736.39,426.4" fill="#000"/>
<polygon points="773.81,416.6 762.38,436.4 785.24,436.4" fill="#000"/>
<polygon points="822.66,432 811.23,451.8 834.09,451.8" fill="#000"/>
<polygon points="871.51,451.6 860.08,471.4 882.95,471.4" fill="#000"/>
<polygon points="920.37,475.4 908.93,495.2 931.8,495.2" fill="#000"/>
<polygon points="969.22,501.1 957.79,520.9 980.65,520.9" fill="#000"/>
<polygon points="1018.07,529.6 1006.64,549.4 1029.5,549.4" fill="#000"/>
<polygon points="1066.92,560.4 1055.49,580.2 1078.35,580.2" fill="#000"/>
<polygon points="1115.77,593.5 1104.34,613.3 1127.2,613.3" fill="#000"/>
<polygon points="1164.62,631.6 1153.19,651.4 1176.05,651.4" fill="#000"/>
<polygon points="1213.47,676.1 1202.04,695.9 1224.9,695.9" fill="#000"/>
<polygon points="1262.32,732.9 1250.89,752.7 1273.75,752.7" fill="#000"/>
<polygon points="1311.17,827.1 1299.74,846.9 1322.61,846.9" fill="#000"/>
</g>
<g stroke="#000" stroke-width="4" fill="none">
<path d="M553.98 91.91V140.01 M529.93 115.96H578.03 M530.28 92.26L577.68 139.66 M530.28 139.66L577.68 92.26"/>
</g>
<rect x="236.45" y="41.05" width="1099.15" height="942.95" fill="none" stroke="#000" stroke-width="2.5" stroke-linejoin="round"/>
<rect x="522.6" y="643.4" width="526.9" height="324.9" fill="#fff" stroke="#000" stroke-width="2.5"/>
<path d="M821.2 685.8H1013.3" stroke="#000" stroke-width="4.2" fill="none"/>
<rect x="909.3" y="677.8" width="16" height="16" fill="#000"/>
<text x="544.5" y="705.7" font-size="57" font-style="italic">l</text>
<text transform="translate(578.1 710.5) scale(1.5 1)" font-size="56">=</text>
<text transform="translate(625 705.7) scale(1.06 1)" font-size="54.3">28</text>
<text x="692.3" y="705.7" font-size="56.5">nm</text>
<path d="M821.2 745.83H1013.3" stroke="#000" stroke-width="4.2" fill="none"/>
<rect x="909.23" y="737.76" width="16.14" height="16.14" fill="none" stroke="#000" stroke-width="3.8"/>
<text x="544.5" y="765.73" font-size="57" font-style="italic">l</text>
<text transform="translate(578.1 770.53) scale(1.5 1)" font-size="56">=</text>
<text transform="translate(625 765.73) scale(1.06 1)" font-size="54.3">90</text>
<text x="692.3" y="765.73" font-size="56.5">nm</text>
<path d="M821.2 805.86H1013.3" stroke="#000" stroke-width="4.2" fill="none"/>
<circle cx="917.3" cy="805.86" r="7.95" fill="#000"/>
<text x="544.5" y="825.76" font-size="57" font-style="italic">l</text>
<text transform="translate(578.1 830.56) scale(1.5 1)" font-size="56">=</text>
<text transform="translate(625 825.76) scale(1.045 1)" font-size="54.3">225</text>
<text x="720.8" y="825.76" font-size="56.5">nm</text>
<path d="M821.2 865.89H1013.3" stroke="#000" stroke-width="4.2" fill="none"/>
<circle cx="917.3" cy="865.89" r="7.85" fill="none" stroke="#000" stroke-width="4"/>
<text x="544.5" y="885.79" font-size="57" font-style="italic">l</text>
<text transform="translate(578.1 890.59) scale(1.5 1)" font-size="56">=</text>
<text transform="translate(625 885.79) scale(1.045 1)" font-size="54.3">450</text>
<text x="720.8" y="885.79" font-size="56.5">nm</text>
<path d="M821.2 925.92H1013.3" stroke="#000" stroke-width="4.2" fill="none"/>
<polygon points="917.3,912.72 905.87,932.52 928.73,932.52" fill="#000"/>
<text x="544.5" y="945.82" font-size="57" font-style="italic">l</text>
<text transform="translate(578.1 950.62) scale(1.5 1)" font-size="56">=</text>
<text transform="translate(625 945.82) scale(1.045 1)" font-size="54.3">720</text>
<text x="720.8" y="945.82" font-size="56.5">nm</text>
<text x="176" y="1009.9" font-size="60.5" text-anchor="end">10</text>
<text x="200.3" y="979.9" font-size="48.5" text-anchor="end">6</text>
<text x="176" y="892.03" font-size="60.5" text-anchor="end">10</text>
<text x="200.3" y="862.03" font-size="48.5" text-anchor="end">7</text>
<text x="176" y="774.16" font-size="60.5" text-anchor="end">10</text>
<text x="200.3" y="744.16" font-size="48.5" text-anchor="end">8</text>
<text x="176" y="656.29" font-size="60.5" text-anchor="end">10</text>
<text x="200.3" y="626.29" font-size="48.5" text-anchor="end">9</text>
<text x="152" y="538.42" font-size="60.5" text-anchor="end">10</text>
<text x="200.3" y="508.42" font-size="48.5" text-anchor="end">10</text>
<text x="152" y="420.56" font-size="60.5" text-anchor="end">10</text>
<text x="200.3" y="390.56" font-size="48.5" text-anchor="end">11</text>
<text x="152" y="302.69" font-size="60.5" text-anchor="end">10</text>
<text x="200.3" y="272.69" font-size="48.5" text-anchor="end">12</text>
<text x="152" y="184.82" font-size="60.5" text-anchor="end">10</text>
<text x="200.3" y="154.82" font-size="48.5" text-anchor="end">13</text>
<text x="152" y="66.95" font-size="60.5" text-anchor="end">10</text>
<text x="200.3" y="36.95" font-size="48.5" text-anchor="end">14</text>
<text x="246.35" y="1064.2" font-size="60.5" text-anchor="middle" letter-spacing="0.4">0</text>
<text x="368.48" y="1064.2" font-size="60.5" text-anchor="middle" letter-spacing="0.4">0.25</text>
<text x="490.61" y="1064.2" font-size="60.5" text-anchor="middle" letter-spacing="0.4">0.5</text>
<text x="612.73" y="1064.2" font-size="60.5" text-anchor="middle" letter-spacing="0.4">0.75</text>
<text x="734.86" y="1064.2" font-size="60.5" text-anchor="middle" letter-spacing="0.4">1</text>
<text x="856.99" y="1064.2" font-size="60.5" text-anchor="middle" letter-spacing="0.4">1.25</text>
<text x="979.12" y="1064.2" font-size="60.5" text-anchor="middle" letter-spacing="0.4">1.5</text>
<text x="1101.24" y="1064.2" font-size="60.5" text-anchor="middle" letter-spacing="0.4">1.75</text>
<text x="1223.37" y="1064.2" font-size="60.5" text-anchor="middle" letter-spacing="0.4">2</text>
<text x="1345.5" y="1064.2" font-size="60.5" text-anchor="middle" letter-spacing="0.4">2.25</text>
<text x="687.5" y="1155" font-size="59" font-style="italic">V</text>
<text x="720.5" y="1160.5" font-size="38.5">GS</text>
<text x="806.2" y="1167.8" font-size="86.8" stroke="#fff" stroke-width="1.9">/</text>
<text x="865.8" y="1155" font-size="56.5">V</text>
<g transform="translate(46 0) rotate(-90)">
<text transform="translate(-792.5 0) scale(1.2 1)" font-size="60" font-style="italic">f</text>
<text x="-765.8" y="6.7" font-size="39">T</text>
<text x="-739.8" y="0" font-size="57" font-style="italic">g</text>
<text x="-712.5" y="6.7" font-size="39">m</text>
<text transform="translate(-649.2 0) scale(1.2 1)" font-size="58.5" font-style="italic" stroke="#000" stroke-width="0.6">I</text>
<text x="-626" y="6.7" font-size="39">D</text>
<text transform="translate(-502.6 0) scale(1.02 1)" font-size="55" stroke="#000" stroke-width="0.7">Hz/V</text>
<text x="-677.8" y="14.3" font-size="86.8" stroke="#fff" stroke-width="1.9">/</text>
<text x="-560.7" y="13.7" font-size="86.8" stroke="#fff" stroke-width="1.9">/</text>
</g>
</svg></body></html>
